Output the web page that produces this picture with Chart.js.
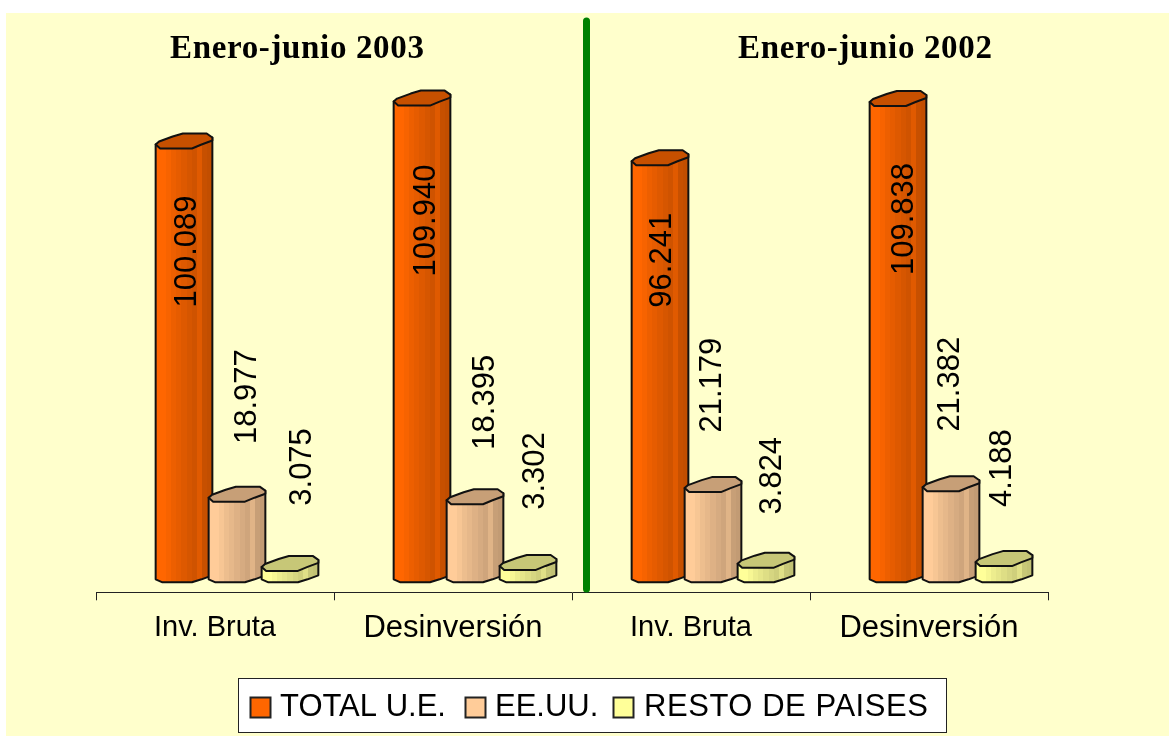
<!DOCTYPE html>
<html><head><meta charset="utf-8">
<style>html,body{margin:0;padding:0;background:#fff}canvas{display:block}</style>
<script src="https://cdn.jsdelivr.net/npm/chart.js@4/dist/chart.umd.min.js"></script>
</head><body>
<div style="position:absolute;left:0;top:0;width:1169px;height:736px"><canvas id="c" width="1169" height="736"></canvas></div>
<script>
const categories = ["Inv. Bruta","Desinversión","Inv. Bruta","Desinversión"];
const seriesNames = ["TOTAL U.E.","EE.UU.","RESTO DE PAISES"];
const totalUE = [100.089,109.940,96.241,109.838];
const eeuu = [18.977,18.395,21.179,21.382];
const resto = [3.075,3.302,3.824,4.188];
const panelTitles = ["Enero-junio 2003","Enero-junio 2002"];
const seriesColors = ["#FF6600","#FFCC99","#FFFF99"];
// label nudges [dx,dy] from the bar's centre/top
const labelNudge = [
  [[3,105],[4,117],[2,97],[6,115]],
  [[10,-103],[10,-100],[-1,-105],[-1,-105]],
  [[12,-102],[7,-97],[6,-90],[-2,-96]]
];
const fmt = v => v.toFixed(3);
const capU = [0,.06,.3,.48,.9,1,1,.81,.64,.08,0];
const capDy= [-2,-5,-10,-13,-13,-9,-6,-2,2,2,-2];
const botU = [1,.81,.64,.12,0];
const botDy= [-7,-3,0,0,-3];
function shade(hex,f){const n=parseInt(hex.slice(1),16);
  return `rgb(${Math.round((n>>16&255)*f)},${Math.round((n>>8&255)*f)},${Math.round((n&255)*f)})`;}
const bandF=[1,1,.97,.93,.9,.87,.84,.81,.88,.78,.76];
function drawCyl(ctx,el,color){
  const w=el.width,l=el.x-w/2,y=el.y,b=el.base;
  const g=ctx.createLinearGradient(l,0,l+w,0);
  bandF.forEach((f,i)=>{g.addColorStop(i/bandF.length,shade(color,f));g.addColorStop((i+1)/bandF.length,shade(color,f));});
  ctx.save();
  ctx.lineJoin='round';ctx.lineWidth=2;ctx.strokeStyle='#111';
  ctx.beginPath();
  ctx.moveTo(l,y+capDy[0]);
  ctx.lineTo(l+w,y+capDy[5]);
  botU.forEach((u,i)=>ctx.lineTo(l+u*w,b+botDy[i]));
  ctx.closePath();ctx.fillStyle=g;ctx.fill();ctx.stroke();
  ctx.beginPath();
  capU.forEach((u,i)=>{const X=l+u*w,Y=y+capDy[i];i?ctx.lineTo(X,Y):ctx.moveTo(X,Y);});
  ctx.closePath();ctx.fillStyle=shade(color,.78);ctx.fill();ctx.stroke();
  ctx.restore();
}
const cylPlugin={id:'cyl',
  afterDatasetsUpdate(chart){
    chart.data.datasets.forEach((ds,i)=>{
      chart.getDatasetMeta(i).data.forEach(el=>{el.x+=22;});
    });
  },
  beforeDraw(chart){
    const c=chart.ctx;c.save();c.fillStyle='#FFFFCC';c.fillRect(6,13,1163,723);c.restore();
  },
  beforeDatasetDraw(){return false;},
  afterDatasetsDraw(chart){
    chart.data.datasets.forEach((ds,i)=>{
      chart.getDatasetMeta(i).data.forEach(el=>drawCyl(chart.ctx,el,ds.backgroundColor));
    });
  },
  afterDraw(chart){
    const c=chart.ctx;c.save();
    // separator
    c.strokeStyle='#008000';c.lineWidth=7;c.lineCap='round';
    c.beginPath();c.moveTo(586.5,21);c.lineTo(586.5,589);c.stroke();
    // panel titles
    c.fillStyle='#000';c.textBaseline='alphabetic';c.textAlign='left';
    c.font='bold 33px "Liberation Serif"';c.letterSpacing='0.65px';
    c.fillText(panelTitles[0],170,58);c.fillText(panelTitles[1],738,58);
    c.letterSpacing='0px';c.textBaseline='middle';
    // value labels
    c.font='31px "Liberation Sans"';c.textAlign='center';
    chart.data.datasets.forEach((ds,i)=>{
      chart.getDatasetMeta(i).data.forEach((el,j)=>{
        const [dx,dy]=labelNudge[i][j];
        c.save();c.translate(el.x+dx,el.y+dy);c.rotate(-Math.PI/2);
        c.fillText(fmt(ds.data[j]),0,0);c.restore();
      });
    });
    // legend
    c.fillStyle='#fff';c.fillRect(238.5,678.5,708,54);
    c.strokeStyle='#222';c.lineWidth=1;c.strokeRect(238.5,678.5,708,54);
    c.font='31px "Liberation Sans"';c.textAlign='left';
    const bx=[250,465,613],tx=[280,495,644],sp=['0px','0px','0.55px'];
    chart.data.datasets.forEach((ds,i)=>{
      c.fillStyle=ds.backgroundColor;c.fillRect(bx[i]+.5,697.5,20,20);
      c.lineWidth=2;c.strokeStyle='#222';c.strokeRect(bx[i]+.5,697.5,20,20);
      c.letterSpacing=sp[i];
      c.fillStyle='#000';c.fillText(ds.label,tx[i],707);
    });
    c.restore();
  }
};
const datasets=[totalUE,eeuu,resto].map((d,i)=>({label:seriesNames[i],data:d,backgroundColor:seriesColors[i],
  categoryPercentage:.668,barPercentage:1.07}));
new Chart(document.getElementById('c'),{
  type:'bar',
  data:{labels:categories,datasets},
  plugins:[cylPlugin],
  options:{
    responsive:false,animation:false,
    layout:{padding:{left:96,right:121,top:13,bottom:78.5}},
    plugins:{legend:{display:false},title:{display:false},tooltip:{enabled:false}},
    scales:{
      x:{offset:true,grid:{display:true,drawOnChartArea:false,offset:true,drawTicks:true,tickLength:8,color:'#222',tickWidth:1},
        border:{display:true,color:'#222'},
        ticks:{color:'#000',font:c=>({family:'"Liberation Sans"',size:c.index%2?31:29}),padding:10,maxRotation:0,autoSkip:false}},
      y:{display:false,min:-2.29,max:130.74}
    }
  }
});
</script>
</body></html>
